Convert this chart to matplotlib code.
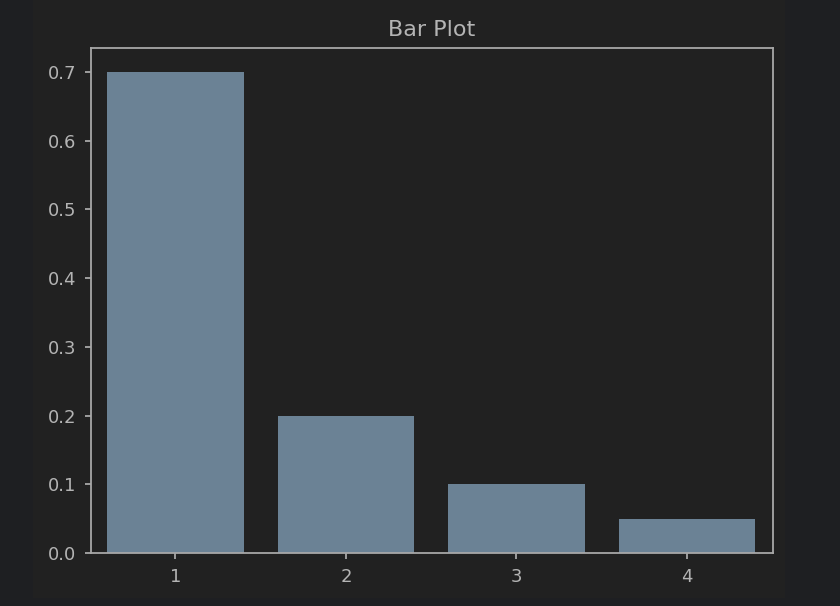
import matplotlib
matplotlib.use("Agg")
import matplotlib.pyplot as plt
from matplotlib.patches import Rectangle

categories = [1, 2, 3, 4]
values = [0.7, 0.2, 0.1, 0.05]
title = "Bar Plot"

outer_bg = "#1e1f22"
inner_bg = "#212121"
fg = "#b4b4b4"
spine_c = "#a8a8a8"
bar_c = "#6b8295"

fig = plt.figure(figsize=(8.4, 6.06), dpi=100, facecolor=outer_bg)
fig.patches.append(Rectangle((33/840, 1 - 598/606), (785-33)/840, 598/606,
                             transform=fig.transFigure, facecolor=inner_bg,
                             edgecolor="none", zorder=-10))
ax = fig.add_axes([91/840, 53/606, (773-91)/840, (553-48)/606])
ax.set_facecolor(inner_bg)
ax.bar(categories, values, width=0.8, color=bar_c)
ax.set_xlim(0.505, 4.505)
ax.set_ylim(0, 0.735)
ax.set_xticks(categories)
ax.set_yticks([0.0, 0.1, 0.2, 0.3, 0.4, 0.5, 0.6, 0.7])
ax.set_yticklabels(["0.0", "0.1", "0.2", "0.3", "0.4", "0.5", "0.6", "0.7"])
for s in ax.spines.values():
    s.set_color(spine_c)
    s.set_linewidth(1.3)
ax.tick_params(colors=spine_c, labelcolor=fg, labelsize=13, length=4.5, width=1.3, pad=6)
ax.set_title(title, color=fg, fontsize=16, pad=8.5)
fig.savefig("out.png", dpi=100, facecolor=outer_bg)
